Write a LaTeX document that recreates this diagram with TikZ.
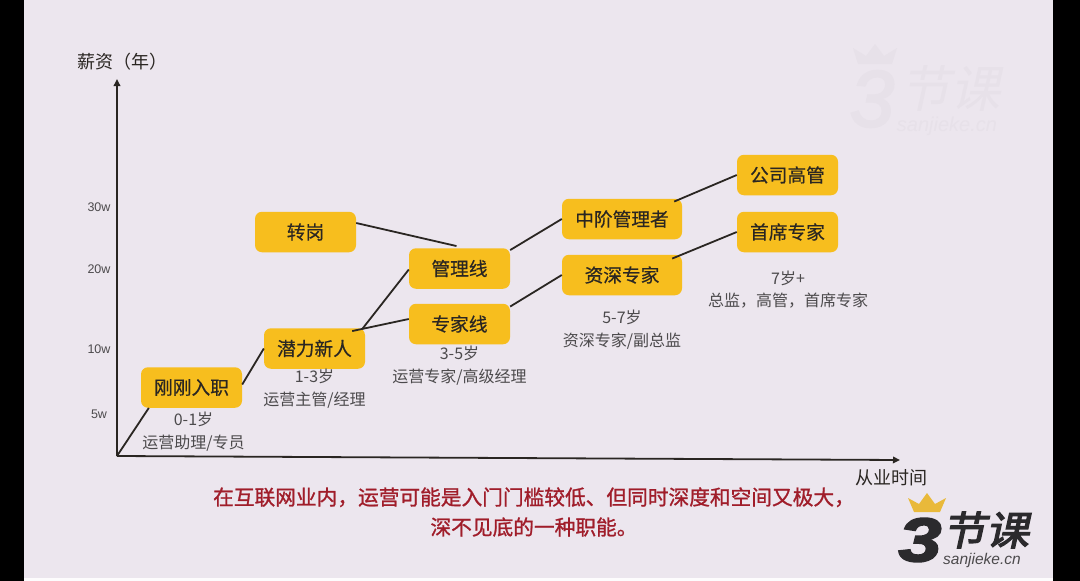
\documentclass[tikz,border=0pt]{standalone}
\usepackage{fontspec}
\setmainfont{Noto Sans CJK SC}
\newfontfamily\latinf{Liberation Sans}
\newfontfamily\medf[FakeBold=0.5]{Noto Sans CJK SC}
\newfontfamily\capf[FakeBold=1.1]{Noto Sans CJK SC}
\newfontfamily\heavyf[FakeBold=3]{Noto Sans CJK SC}
\newfontfamily\wmf{Noto Sans CJK SC}
\newfontfamily\logonum[FakeBold=2.5]{Liberation Sans}
\definecolor{bgl}{HTML}{ECE6EE}
\definecolor{boxy}{HTML}{F7BE1E}
\definecolor{ink}{HTML}{2A2622}
\definecolor{soft}{HTML}{4C4A4C}
\definecolor{capred}{HTML}{A01D2A}
\definecolor{wm}{HTML}{E7E1E9}
\definecolor{crown}{HTML}{E9B93A}
\definecolor{logo}{HTML}{2B2A2D}
\usetikzlibrary{arrows.meta,calc}
\tikzset{
  x=1pt,y=-1pt,
  stagebox/.style={fill=boxy,rounded corners=7pt,minimum height=40.5pt,minimum width=101pt,inner sep=0pt,text=ink,font=\medf\fontsize{18.7}{20}\selectfont},
  widebox/.style={stagebox,minimum width=120pt},
  link/.style={draw=ink,line width=1.8pt},
  axisline/.style={draw=ink,line width=1.8pt,-{Triangle[length=7pt,width=6.5pt]}},
  desc/.style={text=soft,align=center,font=\fontsize{16}{22.7}\selectfont,inner sep=0pt},
  tick/.style={text=soft,font=\latinf\fontsize{12.5}{14}\selectfont,inner sep=0pt},
  axlabel/.style={text=ink,font=\fontsize{18}{20}\selectfont,inner sep=0pt},
}
\begin{document}
\begin{tikzpicture}
\useasboundingbox (0,0) rectangle (1080,581);
\fill[black] (0,0) rectangle (1080,581);
\fill[bgl] (24,0) rectangle (1053,578);
\fill[white!90!bgl] (24,578) rectangle (1053,581);
% watermark
\fill[wm] (858,64) -- (853,48) -- (866,56) -- (875,44) -- (884,56) -- (897,48) -- (892,64) -- cycle;
\node[inner sep=0pt,text=wm,font=\logonum\itshape\fontsize{80}{80}\selectfont] (wm3) at (872,99) {3};
\node[inner sep=0pt,text=wm,font=\wmf\fontsize{50}{50}\selectfont,xslant=0.22] (wmt) at (955,88) {节课};
\node[inner sep=0pt,text=wm,font=\latinf\itshape\fontsize{20}{20}\selectfont] (wmu) at (947,126) {sanjieke.cn};
% axes
\coordinate (o) at (117,456);
\coordinate (ytop) at (117,79);
\coordinate (xend) at (900,460);
\draw[axisline] (o) -- (ytop);
\draw[axisline] (o) -- (xend);
\node[axlabel] (ylab) at (122,62) {薪资（年）};
\node[axlabel] (xlab) at (891,478) {从业时间};
\node[tick] (t30) at (99,207) {30w};
\node[tick] (t20) at (99,269) {20w};
\node[tick] (t10) at (99,349) {10w};
\node[tick] (t5) at (99,414) {5w};
% boxes
\node[stagebox] (a) at (191.5,387.5) {刚刚入职};
\node[stagebox] (b) at (314.5,348.5) {潜力新人};
\node[stagebox] (c) at (305.5,232) {转岗};
\node[stagebox] (d) at (459.5,268.5) {管理线};
\node[stagebox] (e) at (459.5,324) {专家线};
\node[widebox] (f) at (622,219) {中阶管理者};
\node[widebox] (g) at (622,275) {资深专家};
\node[stagebox] (h) at (787.5,175) {公司高管};
\node[stagebox] (i) at (787.5,232) {首席专家};
% connectors
\draw[link] (o) -- ($(a.south west)+(8,0)$);
\draw[link] ($(a.east)+(0,-3)$) -- (b.west);
\draw[link] ($(b.north east)+(-3,1)$) -- ($(d.west)+(0,1)$);
\draw[link] ($(b.north east)+(-13,3)$) -- ($(e.west)+(0,-5)$);
\draw[link] (c.east |- 0,223) -- ($(d.north)+(-3,-2)$);
\draw[link] ($(d.north east)+(0,2)$) -- (f.west);
\draw[link] ($(e.north east)+(0,3)$) -- (g.west);
\draw[link] ($(f.north east)+(-8,3)$) -- (h.west);
\draw[link] ($(g.north east)+(-10,4)$) -- (i.west);
% descriptions
\node[desc] (da) at (193.5,431.5) {0-1岁\\运营助理/专员};
\node[desc] (db) at (314.5,389) {1-3岁\\运营主管/经理};
\node[desc] (de) at (459.5,366) {3-5岁\\运营专家/高级经理};
\node[desc] (dg) at (622,329.5) {5-7岁\\资深专家/副总监};
\node[desc] (di) at (788,289.5) {7岁+\\总监，高管，首席专家};
% caption
\node[inner sep=0pt,text=capred,align=center,font=\capf\fontsize{20.7}{30}\selectfont] (cap) at (534,512)
 {在互联网业内，运营可能是入门门槛较低、但同时深度和空间又极大，\\深不见底的一种职能。};
% logo
\fill[crown] (914,512) -- (908,498) -- (919,504) -- (927,493) -- (935,504) -- (946,498) -- (940,512) -- cycle;
\node[inner sep=0pt,text=logo,font=\logonum\bfseries\itshape\fontsize{62}{62}\selectfont,xscale=1.25] (l3) at (920,540) {3};
\node[inner sep=0pt,text=logo,font=\heavyf\fontsize{40}{40}\selectfont,xslant=0.22,xscale=1.08] (lt) at (989,530) {节课};
\node[inner sep=0pt,text=soft,font=\latinf\itshape\fontsize{15.5}{16}\selectfont] (lu) at (982,560.5) {sanjieke.cn};
\end{tikzpicture}
\end{document}
